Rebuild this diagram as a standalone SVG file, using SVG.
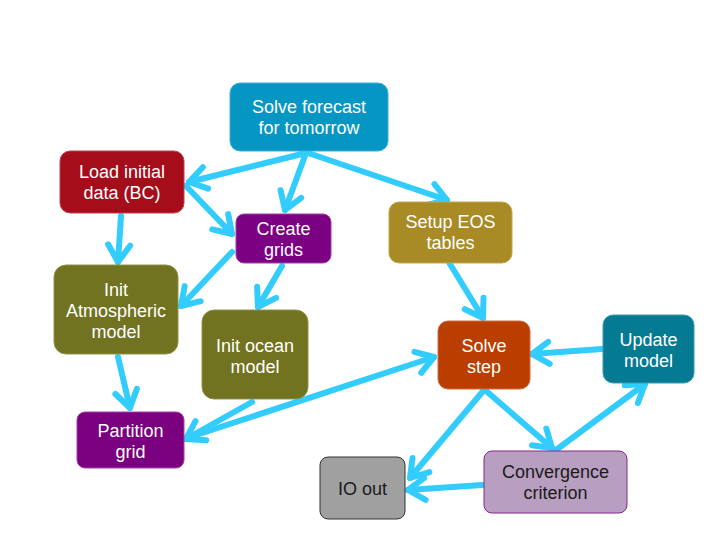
<svg xmlns="http://www.w3.org/2000/svg" width="720" height="540" viewBox="0 0 720 540">
<style>
.n{stroke-width:1}
.t{font-family:"Liberation Sans",Arial,sans-serif;font-size:18px;fill:#ffffff;text-anchor:middle}
.d{fill:#1a1a1a}
.c{fill:none;stroke:#33ccff;stroke-width:6;stroke-linecap:round;marker-end:url(#ah)}
</style>
<defs>
<marker id="ah" markerUnits="userSpaceOnUse" viewBox="0 0 24 24" markerWidth="24" markerHeight="24" refX="21" refY="12" orient="auto" overflow="visible">
<path d="M4,1 L21,12 L4,23" fill="none" stroke="#33ccff" stroke-width="6" stroke-linecap="round" stroke-linejoin="round"/>
</marker>
</defs>
<rect width="720" height="540" fill="#ffffff"/>
<g id="connectors">
<line class="c" x1="306" y1="153" x2="189" y2="182"/>
<line class="c" x1="306" y1="153" x2="285" y2="210"/>
<line class="c" x1="308" y1="153" x2="447" y2="200"/>
<line class="c" x1="186" y1="186" x2="232" y2="234"/>
<line class="c" x1="121" y1="216" x2="118" y2="262"/>
<line class="c" x1="232" y1="252" x2="181" y2="306"/>
<line class="c" x1="282" y1="266" x2="258" y2="307"/>
<line class="c" x1="118" y1="357" x2="130" y2="408"/>
<line class="c" x1="252" y1="402" x2="186" y2="439"/>
<line class="c" x1="190" y1="437" x2="434" y2="357"/>
<line class="c" x1="450" y1="264" x2="483" y2="318"/>
<line class="c" x1="602" y1="349" x2="532" y2="354"/>
<line class="c" x1="485" y1="390" x2="552" y2="448"/>
<line class="c" x1="556" y1="450" x2="645" y2="384"/>
<line class="c" x1="484" y1="390" x2="410" y2="478"/>
<line class="c" x1="482" y1="485" x2="408" y2="490"/>
</g>
<g id="solve-forecast">
<rect class="n" x="230" y="83" width="158" height="68" rx="10" fill="#0696c3" stroke="#3fb0d6"/>
<text class="t" x="309" y="113">Solve forecast</text>
<text class="t" x="309" y="134">for tomorrow</text>
</g>
<g id="load-initial">
<rect class="n" x="60" y="151" width="124" height="62" rx="10" fill="#a50d1a" stroke="#c04050"/>
<text class="t" x="122" y="178">Load initial</text>
<text class="t" x="122" y="199">data (BC)</text>
</g>
<g id="create-grids">
<rect class="n" x="236" y="214" width="95" height="49" rx="8" fill="#7c0082" stroke="#a040a8"/>
<text class="t" x="283.500" y="235">Create</text>
<text class="t" x="283.500" y="256">grids</text>
</g>
<g id="setup-eos">
<rect class="n" x="389" y="202" width="123" height="61" rx="10" fill="#a88b25" stroke="#c0a650"/>
<text class="t" x="450.500" y="228">Setup EOS</text>
<text class="t" x="450.500" y="249">tables</text>
</g>
<g id="init-atmos">
<rect class="n" x="54" y="265" width="124" height="89" rx="12" fill="#717320" stroke="#90924a"/>
<text class="t" x="116" y="296">Init</text>
<text class="t" x="116" y="317">Atmospheric</text>
<text class="t" x="116" y="338">model</text>
</g>
<g id="init-ocean">
<rect class="n" x="202" y="310" width="106" height="89" rx="12" fill="#717320" stroke="#90924a"/>
<text class="t" x="255" y="352">Init ocean</text>
<text class="t" x="255" y="373">model</text>
</g>
<g id="partition-grid">
<rect class="n" x="77" y="412" width="107" height="56" rx="8" fill="#7a0080" stroke="#a040a8"/>
<text class="t" x="130.500" y="437">Partition</text>
<text class="t" x="130.500" y="458">grid</text>
</g>
<g id="solve-step">
<rect class="n" x="438" y="321" width="92" height="68" rx="10" fill="#b93e00" stroke="#d06a40"/>
<text class="t" x="484" y="352">Solve</text>
<text class="t" x="484" y="373">step</text>
</g>
<g id="update-model">
<rect class="n" x="603" y="315" width="91" height="68" rx="10" fill="#057a93" stroke="#3f9ab0"/>
<text class="t" x="648.500" y="346">Update</text>
<text class="t" x="648.500" y="367">model</text>
</g>
<g id="convergence">
<rect class="n" x="484" y="451" width="143" height="62" rx="8" fill="#b89ec0" stroke="#86268c"/>
<text class="t d" x="555.500" y="478">Convergence</text>
<text class="t d" x="555.500" y="499">criterion</text>
</g>
<g id="io-out">
<rect class="n" x="320" y="457" width="85" height="62" rx="8" fill="#a0a0a0" stroke="#333333"/>
<text class="t d" x="362.500" y="495">IO out</text>
</g>
</svg>
